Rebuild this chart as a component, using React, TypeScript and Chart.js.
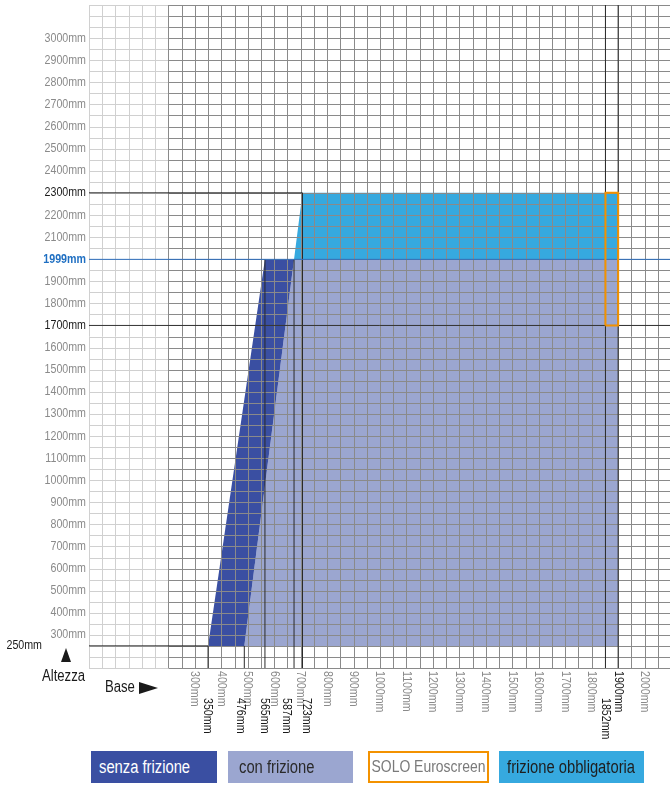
import React, { useEffect, useRef } from 'react';
import { Chart, registerables } from 'chart.js';

Chart.register(...registerables);

const FONT = "'Liberation Sans', Arial, Helvetica, sans-serif";
const NARROW = 0.82; // horizontal squeeze to mimic a condensed face

// ---- axis ranges / grid (mm) ----
const X_MIN = -100;
const X_MAX = 2096;
const Y_MIN = 150;
const Y_MAX = 3150;
const GRID_STEP = 50;
const GRID_SPLIT = 200; // grid is light left of this base value

// ---- Altezza (height) tick labels ----
const heightTicks = [300, 400, 500, 600, 700, 800, 900, 1000, 1100, 1200, 1300, 1400, 1500, 1600, 1700, 1800, 1900, 1999, 2100, 2200, 2300, 2400, 2500, 2600, 2700, 2800, 2900, 3000];
const heightBlack = [1700, 2300];
const heightBlue = [1999];
const minHeight = 250;

// ---- Base (width) tick labels ----
const baseTicks = [300, 400, 500, 600, 700, 800, 900, 1000, 1100, 1200, 1300, 1400, 1500, 1600, 1700, 1800, 1900, 2000];
const baseBlack = [1900];

// ---- marked widths (label text and where the label sits on the base) ----
const markerLabels = ['350mm', '476mm', '565mm', '587mm', '723mm', '1852mm'];
const markerLabelAt = [347, 474, 565, 648, 724, 1852];

// ---- areas (base mm, height mm) ----
const senzaX = [350, 565, 675, 487, 350];
const senzaY = [250, 1999, 1999, 250, 250];
const conX = [487, 675, 1900, 1900, 487];
const conY = [250, 1999, 1999, 250, 250];
const obbligX = [675, 707, 1900, 1900, 675];
const obbligY = [1999, 2300, 2300, 1999, 1999];
const soloX = [1852, 1900, 1900, 1852, 1852];
const soloY = [1700, 1700, 2300, 2300, 1700];

// ---- reference lines ----
const hLineY = [2300, 1999, 1700, 250];
const hLineFrom = [-100, -100, -100, -100];
const hLineTo = [707, 2096, 2096, 350];
const hLineColor = ['#222222', '#2f6fbd', '#333333', '#222222'];
const vLineX = [350, 487, 565, 675, 707, 1852, 1900];
const vLineFrom = [150, 150, 150, 150, 150, 150, 150];
const vLineTo = [250, 250, 1999, 1999, 2300, 3150, 3150];

// ---- legend ----
const legendLabels = ['senza frizione', 'con frizione', 'SOLO Euroscreen', 'frizione obbligatoria'];

const C_SENZA = '#3a4fa2';
const C_CON = '#9ba6d0';
const C_OBBL = '#36a9df';
const C_SOLO = '#f39200';

const pts = (xs: number[], ys: number[]) => xs.map((x, i) => ({ x, y: ys[i] }));

function narrowText(
  ctx: CanvasRenderingContext2D,
  text: string,
  x: number,
  y: number,
  opts: { align: CanvasTextAlign; size: number; color: string; bold?: boolean; rotate?: number }
) {
  ctx.save();
  ctx.translate(x, y);
  if (opts.rotate) ctx.rotate(opts.rotate);
  ctx.scale(NARROW, 1);
  ctx.font = `${opts.bold ? 'bold ' : ''}${opts.size}px ${FONT}`;
  ctx.fillStyle = opts.color;
  ctx.textAlign = opts.align;
  ctx.textBaseline = 'middle';
  ctx.fillText(text, 0, 0);
  ctx.restore();
}

const decorPlugin = {
  id: 'decor',
  beforeDraw(chart: any) {
    chart.$gridDone = false;
  },
  beforeDatasetDraw(chart: any, args: any) {
    const ds = chart.data.datasets[args.index];
    if (ds.kind === 'area' || chart.$gridDone) return;
    chart.$gridDone = true;
    const { ctx, chartArea: a } = chart;
    const xs = chart.scales.x;
    const ys = chart.scales.y;
    const split = Math.round(xs.getPixelForValue(GRID_SPLIT)) + 0.5;
    ctx.save();
    ctx.lineWidth = 1;
    ctx.strokeStyle = '#d0d0d0';
    ctx.beginPath();
    for (let v = Y_MIN; v <= Y_MAX; v += GRID_STEP) {
      const y = Math.round(ys.getPixelForValue(v)) + 0.5;
      ctx.moveTo(a.left, y);
      ctx.lineTo(split, y);
    }
    for (let v = X_MIN; v < GRID_SPLIT; v += GRID_STEP) {
      const x = Math.round(xs.getPixelForValue(v)) + 0.5;
      ctx.moveTo(x, a.top);
      ctx.lineTo(x, a.bottom);
    }
    ctx.stroke();
    ctx.strokeStyle = '#8a8a8a';
    ctx.beginPath();
    for (let v = Y_MIN; v <= Y_MAX; v += GRID_STEP) {
      const y = Math.round(ys.getPixelForValue(v)) + 0.5;
      ctx.moveTo(split, y);
      ctx.lineTo(a.right, y);
    }
    for (let v = GRID_SPLIT; v <= X_MAX; v += GRID_STEP) {
      const x = Math.round(xs.getPixelForValue(v)) + 0.5;
      ctx.moveTo(x, a.top);
      ctx.lineTo(x, a.bottom);
    }
    ctx.stroke();
    ctx.restore();
  },
  afterDraw(chart: any) {
    const { ctx, chartArea: a } = chart;
    const xs = chart.scales.x;
    const ys = chart.scales.y;
    // Altezza tick labels
    heightTicks.forEach((v) => {
      const blue = heightBlue.includes(v);
      const black = heightBlack.includes(v);
      narrowText(ctx, `${v}mm`, a.left - 3, ys.getPixelForValue(v), {
        align: 'right',
        size: 13,
        bold: blue,
        color: blue ? '#1f6fc2' : black ? '#1a1a1a' : '#8a8a8a',
      });
    });
    narrowText(ctx, `${minHeight}mm`, 42, ys.getPixelForValue(minHeight), { align: 'right', size: 13, color: '#1a1a1a' });
    // Base tick labels, rotated clockwise
    baseTicks.forEach((v) => {
      const black = baseBlack.includes(v);
      narrowText(ctx, `${v}mm`, xs.getPixelForValue(v), a.bottom + 3, {
        align: 'left',
        size: 13,
        color: black ? '#1a1a1a' : '#8a8a8a',
        rotate: Math.PI / 2,
      });
    });
    markerLabels.forEach((t, i) => {
      narrowText(ctx, t, xs.getPixelForValue(markerLabelAt[i]), a.bottom + 30, {
        align: 'left',
        size: 13,
        color: '#1a1a1a',
        rotate: Math.PI / 2,
      });
    });
    // Altezza arrow + label
    ctx.save();
    ctx.fillStyle = '#1a1a1a';
    ctx.beginPath();
    ctx.moveTo(61, 662);
    ctx.lineTo(71, 662);
    ctx.lineTo(66, 648);
    ctx.closePath();
    ctx.fill();
    ctx.beginPath();
    ctx.moveTo(139, 682);
    ctx.lineTo(139, 694);
    ctx.lineTo(158, 688);
    ctx.closePath();
    ctx.fill();
    ctx.restore();
    narrowText(ctx, 'Altezza', 85, 677, { align: 'right', size: 16, color: '#1a1a1a' });
    narrowText(ctx, 'Base', 105, 688, { align: 'left', size: 16, color: '#1a1a1a' });
  },
};

function buildDatasets() {
  const ds: any[] = [
    { label: 'senza frizione', kind: 'area', data: pts(senzaX, senzaY), backgroundColor: C_SENZA, fill: 'shape', borderWidth: 0, order: 3 },
    { label: 'con frizione', kind: 'area', data: pts(conX, conY), backgroundColor: C_CON, fill: 'shape', borderWidth: 0, order: 3 },
    { label: 'frizione obbligatoria', kind: 'area', data: pts(obbligX, obbligY), backgroundColor: C_OBBL, fill: 'shape', borderWidth: 0, order: 3 },
  ];
  hLineY.forEach((y, i) => {
    ds.push({ label: `h${y}`, kind: 'ref', data: [{ x: hLineFrom[i], y }, { x: hLineTo[i], y }], borderColor: hLineColor[i], borderWidth: 1, fill: false, order: 2 });
  });
  vLineX.forEach((x, i) => {
    ds.push({ label: `v${x}`, kind: 'ref', data: [{ x, y: vLineFrom[i] }, { x, y: vLineTo[i] }], borderColor: '#2a2a2a', borderWidth: 1, fill: false, order: 2 });
  });
  ds.push({ label: 'SOLO Euroscreen', kind: 'ref', data: pts(soloX, soloY), borderColor: C_SOLO, borderWidth: 2, fill: false, order: 1 });
  return ds.map((d) => ({ showLine: true, pointRadius: 0, pointHoverRadius: 0, tension: 0, ...d }));
}

const legendStyles: React.CSSProperties[] = [
  { left: 91, width: 126, background: C_SENZA, color: '#ffffff', paddingLeft: 8, justifyContent: 'flex-start' },
  { left: 228, width: 125, background: C_CON, color: '#2a2a2a', paddingLeft: 11, justifyContent: 'flex-start' },
  { left: 368, width: 121, background: '#ffffff', color: '#7a7a7a', border: `2px solid ${C_SOLO}`, justifyContent: 'center', fontSize: 17 },
  { left: 499, width: 145, background: C_OBBL, color: '#1e1e1e', justifyContent: 'center' },
];

export default function App() {
  const ref = useRef<HTMLCanvasElement>(null);
  useEffect(() => {
    const chart = new Chart(ref.current as HTMLCanvasElement, {
      type: 'scatter',
      data: { datasets: buildDatasets() },
      plugins: [decorPlugin],
      options: {
        animation: false,
        responsive: false,
        devicePixelRatio: 1,
        events: [],
        layout: { padding: { top: 5, bottom: 117, left: 89, right: 0 } },
        plugins: { legend: { display: false }, tooltip: { enabled: false } },
        scales: {
          x: { type: 'linear', min: X_MIN, max: X_MAX, display: false },
          y: { type: 'linear', min: Y_MIN, max: Y_MAX, display: false },
        },
      } as any,
    });
    return () => chart.destroy();
  }, []);

  return (
    <div style={{ position: 'absolute', left: 0, top: 0, width: 670, height: 785, background: '#ffffff' }}>
      <canvas ref={ref} width={670} height={785} style={{ display: 'block' }} />
      {legendLabels.map((t, i) => (
        <div
          key={t}
          style={{
            position: 'absolute',
            top: 751,
            height: 32,
            boxSizing: 'border-box',
            display: 'flex',
            alignItems: 'center',
            fontFamily: FONT,
            fontSize: 18,
            whiteSpace: 'nowrap',
            overflow: 'hidden',
            ...legendStyles[i],
          }}
        >
          <span
            style={{
              display: 'inline-block',
              transform: `scaleX(${NARROW})`,
              transformOrigin: i < 2 ? 'left center' : 'center center',
              margin: i < 2 ? 0 : '0 -20px',
            }}
          >
            {t}
          </span>
        </div>
      ))}
    </div>
  );
}
